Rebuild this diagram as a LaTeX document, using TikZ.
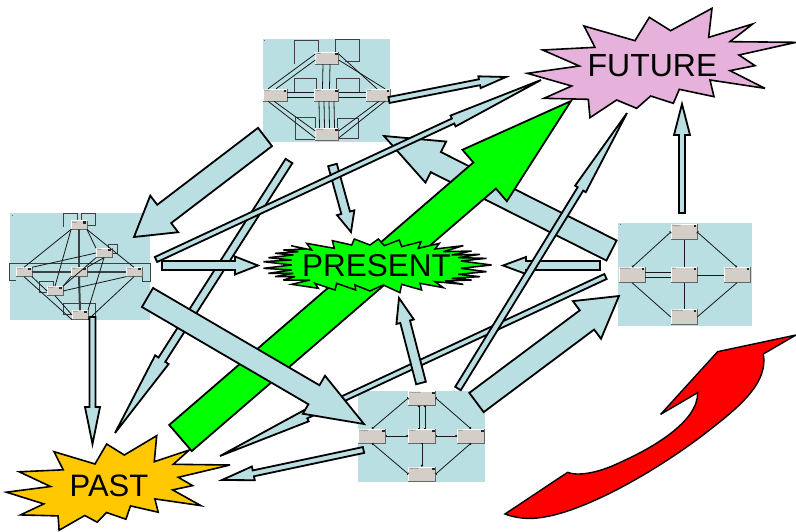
\documentclass[tikz,border=0pt]{standalone}
\usepackage{fontspec}
\setmainfont{Liberation Sans}
\usetikzlibrary{arrows.meta}
\definecolor{panelblue}{HTML}{B9DFE3}
\definecolor{boxgrey}{HTML}{D3CFC8}
\definecolor{pastgold}{HTML}{FFC800}
\definecolor{futurepink}{HTML}{E6B1DB}
\tikzset{
  panel/.style={fill=panelblue,draw=none,inner sep=0pt},
  blockarrow/.style={draw=black,line width=1.8pt,fill=panelblue,line join=miter,miter limit=6},
  greenarrow/.style={blockarrow,fill=green},
  burst/.style={draw=black,line width=1.6pt,line join=miter,miter limit=6},
  burstlabel/.style={inner sep=0pt,text=black},
  minibox/.style={fill=boxgrey,draw=none,inner sep=0pt},
  minilab/.style={font=\fontsize{2.2}{2.6}\selectfont,text=black!70,inner sep=0.8pt},
  eline/.style={draw=black!90,line width=0.8pt},
  ethick/.style={draw=black!75,line width=0.9pt},
  eloop/.style={draw=black!75,line width=0.9pt},
  ent/.style={eline,{Circle[open,fill=white,length=2.2pt,width=2.2pt]}-{Bar[width=2.6pt,length=0.6pt]}},
  cornerdot/.style={fill=black!60,draw=none}
}
% style, tail x,y, tip x,y, shaft width, head width, head length
\newcommand\barrow[8]{%
  \pgfmathsetmacro\baang{atan2(-(#5-#3),#4-#2)}%
  \pgfmathsetmacro\balen{veclen(#4-#2,#5-#3)}%
  \pgfmathsetmacro\babase{\balen-#8}%
  \begin{scope}[shift={(#2,#3)},rotate=\baang]
    \draw[#1] (0,{#6/2}) -- (\babase,{#6/2}) -- (\babase,{#7/2}) -- (\balen,0)
      -- (\babase,{-#7/2}) -- (\babase,{-#6/2}) -- (0,{-#6/2}) -- cycle;
  \end{scope}}
% name, x, y, w, h, label
\newcommand\erbox[6]{%
  \node[minibox,minimum width=#4pt,minimum height=#5pt] (#1) at (#2,#3) {};
  \draw[white,line width=0.6pt] (#1.south west) -- (#1.north west) -- (#1.north east);
  \draw[black!60,line width=0.8pt] (#1.south west) -- (#1.south east) -- (#1.north east);
  \fill[black!85] ([xshift=-0.8pt,yshift=-0.8pt]#1.north east) rectangle ++(-2.8,2.2);
  \node[minilab,anchor=north west] (#1-lab) at (#1.north west) {#6};}
\begin{document}
\begin{tikzpicture}[x=1pt,y=-1pt]
\useasboundingbox (0,0) rectangle (796,531);
% --- panels
\fill[panel] (263,39) rectangle (390,142);
\fill[panel] (10,213) rectangle (150,320);
\fill[panel] (618,223) rectangle (752,326);
\fill[panel] (358,391) rectangle (485,482);
\fill[cornerdot] (264,40) rectangle (265,41);
\fill[cornerdot] (12,214.5) rectangle (13,215.5);
\fill[cornerdot] (620,224) rectangle (621,225);
% --- top panel
\draw[eloop] (318.3,52) -- (318.3,40) -- (294,40) -- (294,64);
\draw[eloop] (335,52) -- (335,39.3) -- (359.3,39.3) -- (359.3,61.7) -- (345,61.7);
\draw[eloop] (294.3,93.3) -- (294.3,78.3) -- (316.7,78.3) -- (316.7,89);
\draw[eloop] (336.7,89.3) -- (336.7,78.3) -- (359.3,78.3) -- (359.3,93.3);
\draw[eloop] (315.7,128) -- (315.7,117.3) -- (295.7,117.3) -- (295.7,139.3) -- (315.7,139.3);
\draw[eloop] (337.7,128) -- (337.7,118.3) -- (358.3,118.3) -- (358.3,138.3) -- (339,138.3);
\erbox{ta}{327}{58}{23}{12}{Goal}
\erbox{tb}{275}{95}{24}{12}{Action}
\erbox{tc}{326.5}{95}{24}{12}{Agent}
\erbox{td}{378}{95}{24}{12}{Data}
\erbox{te}{327}{134}{23}{12}{Activity}
\draw[eline] ([yshift=4pt]ta.west) -- ([xshift=-7pt]tb.north);
\draw[eline] ([yshift=-2pt]ta.west) -- ([xshift=1pt]tb.north);
\draw[eline] ([yshift=4pt]ta.east) -- ([xshift=-1pt]td.north);
\draw[eline] ([yshift=-2pt]ta.east) -- ([xshift=7pt]td.north);
\draw[eline] ([xshift=-4pt]ta.south) -- ([xshift=-4pt]tc.north);
\draw[eline] ([xshift=3pt]ta.south) -- ([xshift=3pt]tc.north);
\draw[eline] ([yshift=2.5pt]tb.east) -- ([yshift=2.5pt]tc.west);
\draw[eline] ([yshift=-2.5pt]tb.east) -- ([yshift=-2.5pt]tc.west);
\draw[eline] ([yshift=2.5pt]tc.east) -- ([yshift=2.5pt]td.west);
\draw[eline] ([yshift=-2.5pt]tc.east) -- ([yshift=-2.5pt]td.west);
\foreach \s in {-7.5,-2.5,2.5,7.5} \draw[eline] ([xshift=\s pt]tc.south) -- ([xshift=\s pt]te.north);
\draw[eline] ([xshift=-7pt]tb.south) -- ([yshift=-4pt]te.west);
\draw[eline] ([xshift=-1pt]tb.south) -- ([yshift=3pt]te.west);
\draw[eline] ([xshift=7pt]td.south) -- ([yshift=-4pt]te.east);
\draw[eline] ([xshift=1pt]td.south) -- ([yshift=3pt]te.east);
% --- left panel
\draw[eloop] (63.3,226.7) -- (63.3,213.3) -- (77.3,213.3) -- (77.3,220.8);
\draw[eloop] (81,220.8) -- (81,213.3) -- (95.7,213.3) -- (95.7,225.7) -- (87,225.7);
\draw[eloop] (108.3,248.5) -- (108.3,244.3) -- (117.3,244.3) -- (117.3,253.3) -- (112,253.3);
\draw[eloop] (16,280) -- (9.3,280) -- (9.3,263.3) -- (150,263.3) -- (150,281.7) -- (142,281.7) -- (142,276);
\draw[eloop] (47,292.3) -- (39.3,292.3) -- (39.3,281.7) -- (53.3,281.7) -- (53.3,286.5);
\draw[eloop] (72,314.3) -- (63.3,314.3) -- (63.3,303.3) -- (95,303.3) -- (95,316.7) -- (88,316.7);
\erbox{la}{79}{225}{15.5}{8.5}{Goal}
\erbox{lb}{104}{253}{15.5}{9}{Rule}
\erbox{lc}{24}{272}{15.5}{9}{Action}
\erbox{ld}{79}{272}{15.5}{9}{Object}
\erbox{le}{134}{272}{15.5}{9}{Data}
\erbox{lf}{55}{291}{15.5}{9}{Event}
\erbox{lg}{80}{315}{15.5}{9}{Actor}
\draw[eline] (la.south west) -- (lc.north);
\draw[eline] (la.south east) -- (le.north);
\draw[eline] (lc.south) -- (lg.south west);
\draw[eline] (le.south) -- (lg.south east);
\draw[ethick,line width=2pt] (la.south) -- (ld.north);
\draw[ethick,line width=2pt] (ld.south) -- (lg.north);
\draw[ethick,line width=2pt] (lc.east) -- (ld.west);
\draw[ethick,line width=1.6pt] (ld.east) -- (le.west);
\draw[eline] (lb.west) -- (lc.north east);
\draw[eline] (lb.south) -- (ld.north east);
\draw[eline] (lb.south) -- (lg.north east);
\draw[eline] (lb.north west) -- (la.south east);
\draw[eline] (lf.north) -- (la.south west);
\draw[eline] (lf.north east) -- (ld.south west);
\draw[eline] (lf.east) -- (le.south west);
\draw[eline] (lf.south) -- (lg.west);
\draw[eline] (lf.west) -- (lc.south east);
\draw[eline] (lf.north east) -- (lb.south west);
% --- right panel
\erbox{ra}{684}{232}{26}{15}{Category}
\erbox{rb}{632}{275}{26}{15}{Distribution}
\erbox{rc}{684}{275}{26}{15}{Item}
\erbox{rd}{737}{275}{26}{15}{Contact}
\erbox{re}{684}{317}{26}{15}{Warehouse}
\draw[ent] (rb.north) -- (ra.west);
\draw[ent] (rd.north) -- (ra.east);
\draw[eline] (rb.south) -- (re.west);
\draw[eline] (rd.south) -- (re.east);
\draw[eline,line width=1pt] (ra.south) -- (rc.north);
\draw[eline,line width=1pt] (rc.south) -- (re.north);
\draw[eline,line width=1pt] ([yshift=2.5pt]rb.east) -- ([yshift=2.5pt]rc.west);
\draw[eline,line width=1pt] ([yshift=-2.5pt]rb.east) -- ([yshift=-2.5pt]rc.west);
\draw[eline] (rc.east) -- (rd.west);
% --- bottom panel
\erbox{ba}{422}{398}{27}{14}{Transaction}
\erbox{bb}{372}{436}{27}{14}{Category}
\erbox{bc}{422}{436}{27}{14}{Object}
\erbox{bd}{471}{436}{27}{14}{Role}
\erbox{be}{422}{474}{27}{14}{Operation}
\draw[ent] (bb.north) -- (ba.west);
\draw[ent] (bd.north) -- (ba.east);
\draw[ent] (bb.south) -- (be.west);
\draw[ent] (bd.south) -- (be.east);
\draw[ent] ([xshift=-3pt]ba.south) -- ([xshift=-3pt]bc.north);
\draw[ent] ([xshift=3pt]ba.south) -- ([xshift=3pt]bc.north);
\draw[ent] (bc.west) -- (bb.east);
\draw[ent] (bd.west) -- (bc.east);
\draw[ent] (be.north) -- (bc.south);
% --- block arrows, back to front
\barrow{blockarrow}{289}{161}{115}{433}{8}{16}{87}
\barrow{blockarrow}{332.5}{165}{351}{232}{9}{18}{20}
\barrow{blockarrow}{611.5}{250.5}{384}{136}{22.5}{46}{58}
\barrow{blockarrow}{605.5}{276.5}{220}{456}{5.5}{12}{95}
\barrow{blockarrow}{265}{137}{134}{237}{23}{46}{38}
% PAST burst
\draw[burst,fill=pastgold] (54,451.7) -- ++(41,12.3) -- ++(11.7,-20) -- ++(17.6,11) -- ++(32.4,-19.3) -- ++(-2.4,26) -- ++(35,-11.7) -- ++(-16,14.3) -- ++(56.7,0.7) -- ++(-51.7,12.3) -- ++(14.3,8.3) -- ++(-20,4.3) -- ++(28.3,15.7) -- ++(-46,-6.7) -- ++(3.3,13.3) -- ++(-27.7,-6.3) -- ++(-4.6,13.3) -- ++(-19.4,-6.7) -- ++(-9.3,9.7) -- ++(-12.4,-6.7) -- ++(-25.7,14.7) -- ++(-1,-14.3) -- ++(-37.6,-1) -- ++(23.3,-11) -- ++(-37.3,-11.7) -- ++(44,-5.7) -- ++(-31.3,-14.7) -- ++(44,-2) -- cycle;
\node[burstlabel,font=\fontsize{31}{33}\selectfont] (past) at (109,486) {PAST};
% green arrow
\barrow{greenarrow}{180.5}{438}{571}{101}{34.5}{68}{114}
% PRESENT burst
\begin{scope}[shift={(255,225)},x=0.3333pt,y=-0.3333pt]
\draw[burst,line width=1.5pt,fill=green] (108,62) -- (170,75) -- (155,55) -- (238,70) -- (232,47) -- (290,60) -- (298,42) -- (345,60) -- (370,42) -- (388,62) -- (433,45) -- (440,65) -- (498,50) -- (490,70) -- (553,55) -- (540,72) -- (625,62) -- (565,80) -- (650,78) -- (590,90) -- (675,88) -- (610,98) -- (695,100) -- (618,108) -- (710,120) -- (618,130) -- (695,140) -- (610,148) -- (675,155) -- (590,160) -- (650,165) -- (570,168) -- (625,178) -- (540,170) -- (565,188) -- (495,175) -- (500,195) -- (440,178) -- (435,203) -- (385,180) -- (345,198) -- (300,180) -- (302,195) -- (245,175) -- (240,195) -- (180,175) -- (190,190) -- (110,178) -- (165,165) -- (85,165) -- (120,155) -- (60,155) -- (115,145) -- (40,145) -- (110,135) -- (25,130) -- (110,120) -- (25,110) -- (110,105) -- (40,98) -- (115,90) -- (60,85) -- (130,80) -- (85,75) -- (150,72) -- cycle;
\end{scope}
\node[burstlabel,font=\fontsize{31.5}{33}\selectfont] (present) at (376.5,266) {PRESENT};
% FUTURE burst
\begin{scope}[shift={(520,0)},x=0.3333pt,y=-0.3333pt]
\draw[burst,fill=futurepink] (192,78) -- (345,122) -- (388,52) -- (452,92) -- (576,25) -- (566,112) -- (698,72) -- (630,125) -- (828,127) -- (657,165) -- (705,197) -- (630,212) -- (735,265) -- (570,240) -- (582,290) -- (478,268) -- (460,310) -- (392,288) -- (350,325) -- (290,300) -- (210,353) -- (205,298) -- (72,295) -- (155,258) -- (22,220) -- (178,198) -- (68,150) -- (225,142) -- cycle;
\end{scope}
\node[burstlabel,font=\fontsize{32}{34}\selectfont] (future) at (652.5,66) {FUTURE};
% front arrows
\barrow{blockarrow}{147.5}{297.5}{364}{424}{22}{44}{58}
\barrow{blockarrow}{162}{265.5}{258}{265.5}{9}{18}{23}
\barrow{blockarrow}{92.5}{317}{92.5}{444}{6}{15}{37}
\barrow{blockarrow}{389}{100}{506}{77}{6}{12}{27}
\barrow{blockarrow}{156}{259.5}{541}{80}{5.5}{12}{97}
\barrow{blockarrow}{363.5}{450}{222}{480}{6}{14}{32}
\barrow{blockarrow}{421}{383}{399}{298}{10}{18}{24.5}
\barrow{blockarrow}{600}{265.5}{503}{265.5}{9}{17}{23}
\barrow{blockarrow}{458}{388.5}{627}{113}{6.5}{12.5}{89}
\barrow{blockarrow}{476.5}{402.5}{619}{296}{24}{47}{40}
\barrow{blockarrow}{682}{213}{682}{104}{6}{16}{31}
% red curved arrow
\begin{scope}[shift={(495,325)},x=0.3333pt,y=-0.3333pt]
\draw[burst,line width=1.4pt,fill=red] (30,567) -- (218,442) .. controls (240,452) and (300,450) .. (380,410) .. controls (470,370) and (610,290) .. (608,203) -- (497,268) -- (668,80) -- (903,30) -- (805,87) .. controls (820,170) and (740,240) .. (650,310) .. controls (500,430) and (230,590) .. (90,580) .. controls (65,578) and (45,573) .. (30,567) -- cycle;
\end{scope}
\end{tikzpicture}
\end{document}
